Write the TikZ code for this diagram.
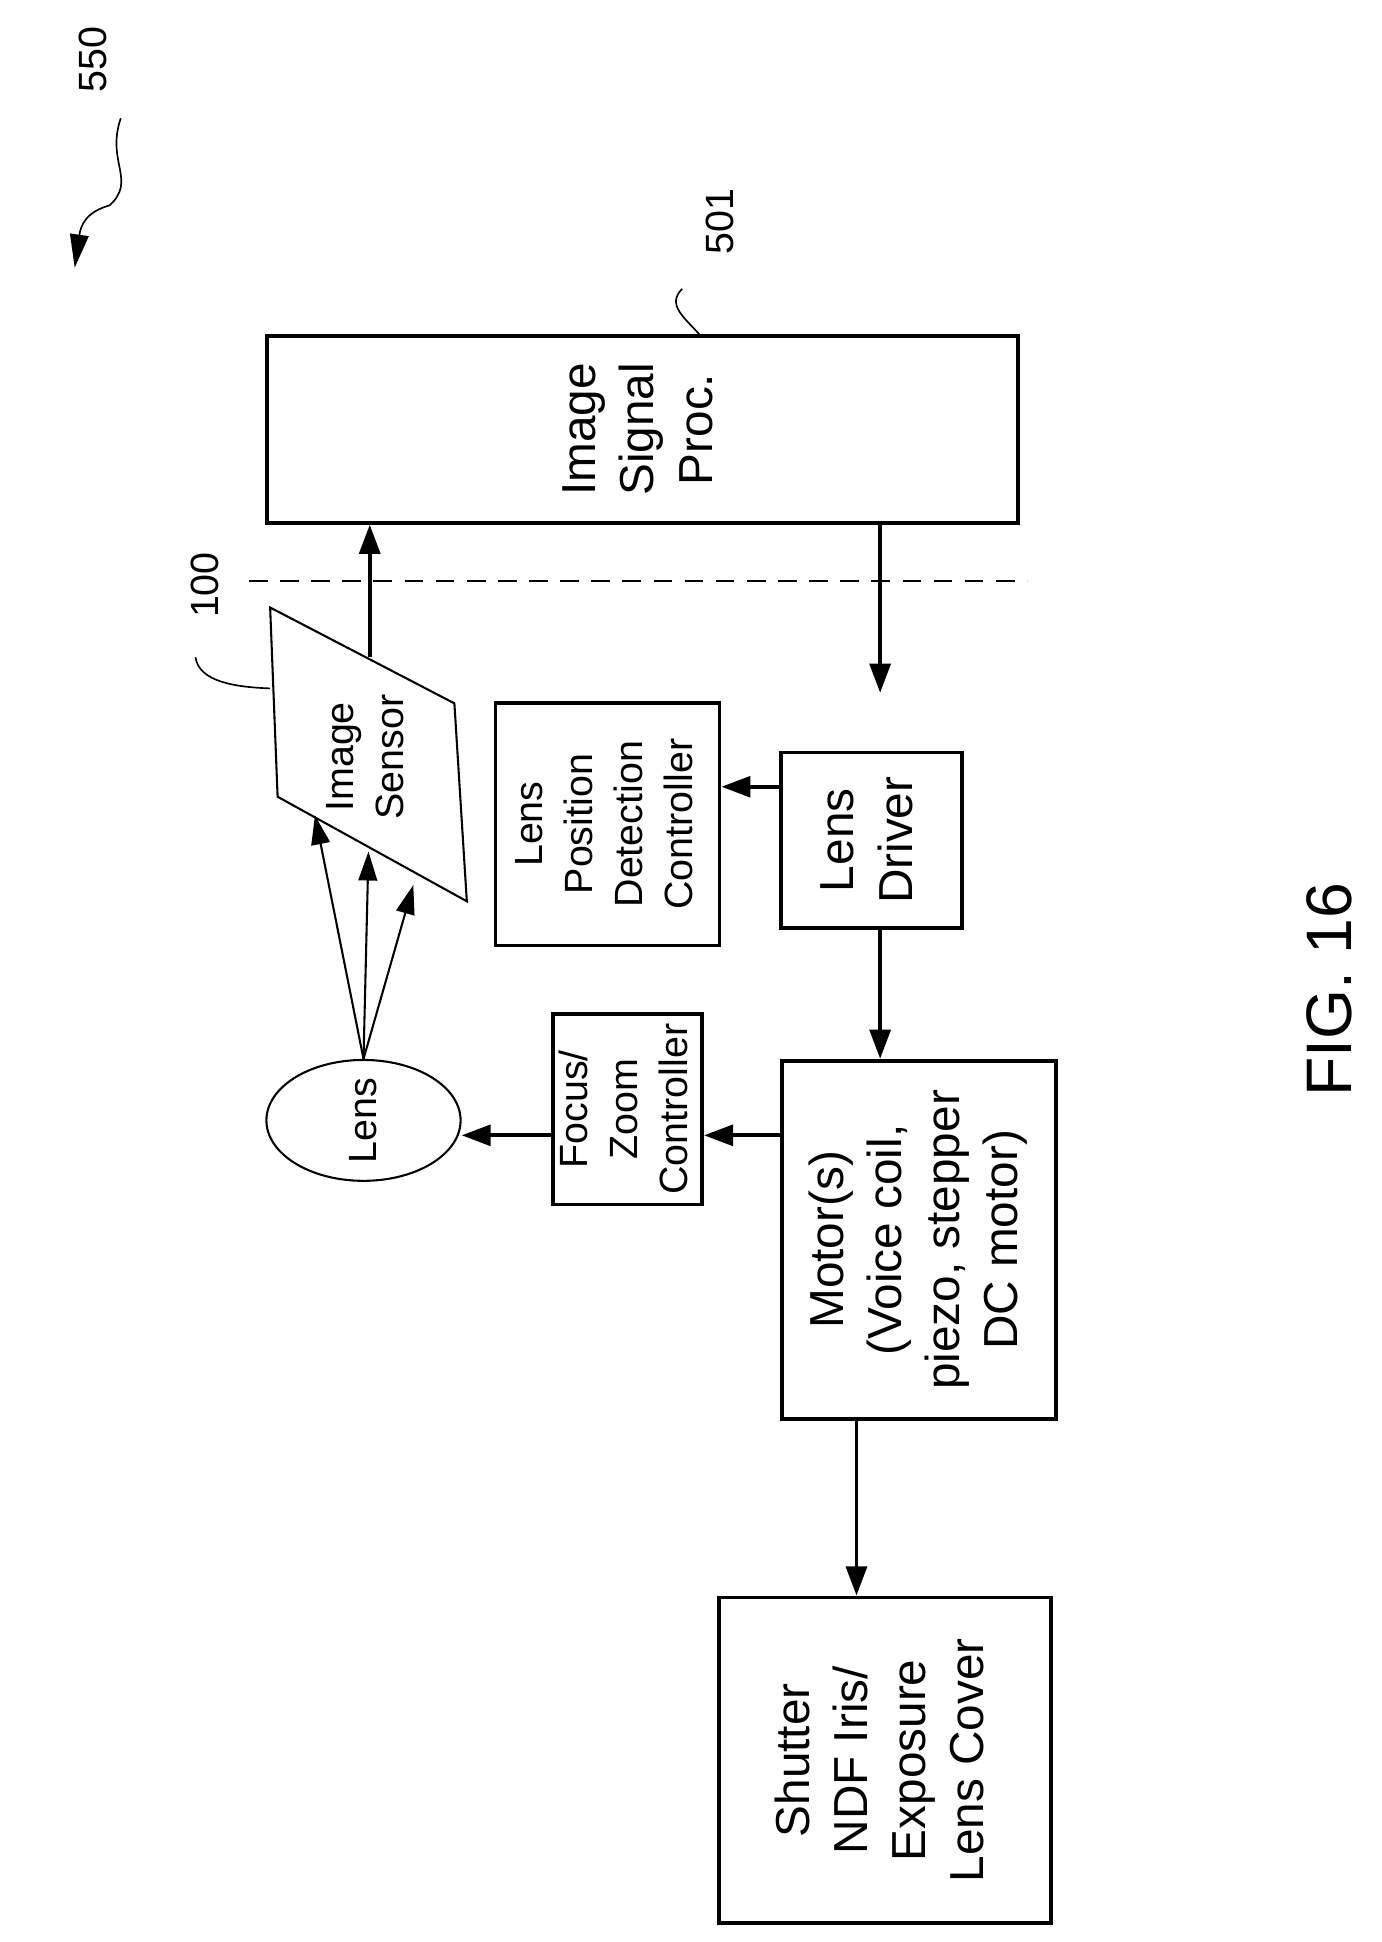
\documentclass[tikz,border=0pt]{standalone}
\usepackage{fontspec}
\setmainfont{Liberation Sans}
\usetikzlibrary{arrows.meta,shapes.geometric}
\begin{document}
\begin{tikzpicture}[x=0.6pt,y=-0.6pt,
  box/.style={draw,line width=1.8pt,inner sep=0pt,align=center},
  arr/.style={line width=1.8pt,-{Triangle[length=14pt,width=10pt]}},
  thin arr/.style={line width=1pt,-{Triangle[length=14pt,width=9pt]}},
  big/.style={font=\fontsize{23}{28}\selectfont},
  small/.style={font=\fontsize{19}{24}\selectfont}]
\useasboundingbox (0,0) rectangle (1110,1560);
\newcommand{\rt}[1]{\rotatebox{90}{\begin{tabular}{@{}c@{}}#1\end{tabular}}}
% boxes
\node[box,big,minimum width=361.8pt,minimum height=90pt] (isp) at (516,345) {\rt{Image\\Signal\\Proc.}};
\node[box,small,minimum width=108pt,minimum height=117pt] (lpdc) at (488,662) {\rt{Lens\\Position\\Detection\\Controller}};
\node[box,big,minimum width=87pt,minimum height=84.6pt] (drv) at (700,675) {\rt{Lens\\Driver}};
\node[box,small,minimum width=70.8pt,minimum height=91.8pt] (fzc) at (504,891) {\rt{Focus/\\Zoom\\Controller}};
\node[box,big,minimum width=132pt,minimum height=172.8pt] (mot) at (738,996) {\rt{Motor(s)\\(Voice coil,\\piezo, stepper\\DC motor)}};
\node[box,big,minimum width=160pt,minimum height=157pt] (sh) at (711,1414) {\rt{Shutter\\NDF Iris/\\Exposure\\Lens Cover}};
\node[draw,line width=1pt,ellipse,minimum width=93.6pt,minimum height=43pt,inner sep=0pt,small] (lens) at (292,900) {\rotatebox{90}{Lens}};
% image sensor
\draw[line width=1pt] (217,488) coordinate (s1) -- (365,565) coordinate (s2) -- (375,724) coordinate (s3) -- (223,640) coordinate (s4) -- cycle;
\node[small,align=center] (sensor) at (296,608) {\rt{Image\\Sensor}};
\coordinate (sTop) at (297,528);
\coordinate (t1) at (253,655);
\coordinate (t2) at (296,684);
\coordinate (t3) at (332,711);
% dashed line
\coordinate (d1) at (200,467); \coordinate (d2) at (825,467);
\draw[line width=1pt,dash pattern=on 9pt off 6pt] (d1) -- (d2);
% arrows
\draw[arr] (sTop) -- (isp.south -| sTop);
\draw[arr] ([xshift=114.6pt]isp.south) -- ++(0,135) coordinate (ispEnd);
\draw[arr] ([yshift=25.8pt]drv.west) -- ([yshift=25.8pt]drv.west -| lpdc.east);
\draw[arr] ([xshift=4.2pt]drv.south) -- ([xshift=4.2pt]drv.south |- mot.north);
\draw[arr] ([yshift=50.4pt]mot.west) -- ([yshift=50.4pt]mot.west -| fzc.east);
\draw[arr] ([yshift=-12.6pt]fzc.west) -- ([yshift=-12.6pt]fzc.west -| lens.east);
\draw[arr] ([xshift=-30pt]mot.south) -- ([xshift=-30pt]mot.south |- sh.north);
\draw[thin arr] (lens.north) -- (t1);
\draw[thin arr] (lens.north) -- (t2);
\draw[thin arr] (lens.north) -- (t3);
% labels
\node[small] (l100) at (165,470) {\rotatebox{90}{100}};
\draw[line width=0.8pt] (157,528) .. controls (160,548) and (190,552) .. (217,553);
\node[small] (l501) at (578,178) {\rotatebox{90}{501}};
\draw[line width=0.8pt] (548,232) .. controls (535,245) and (550,255) .. (563,270);
\node[small] (l550) at (75,48) {\rotatebox{90}{550}};
\draw[line width=0.8pt,-{Triangle[length=16pt,width=9pt]}] (97,95) .. controls (85,130) and (110,145) .. (88,165) .. controls (70,170) and (65,180) .. (60,215);
\node[font=\fontsize{31}{36}\selectfont] (fig) at (1068,795) {\rotatebox{90}{FIG. 16}};
\end{tikzpicture}
\end{document}
